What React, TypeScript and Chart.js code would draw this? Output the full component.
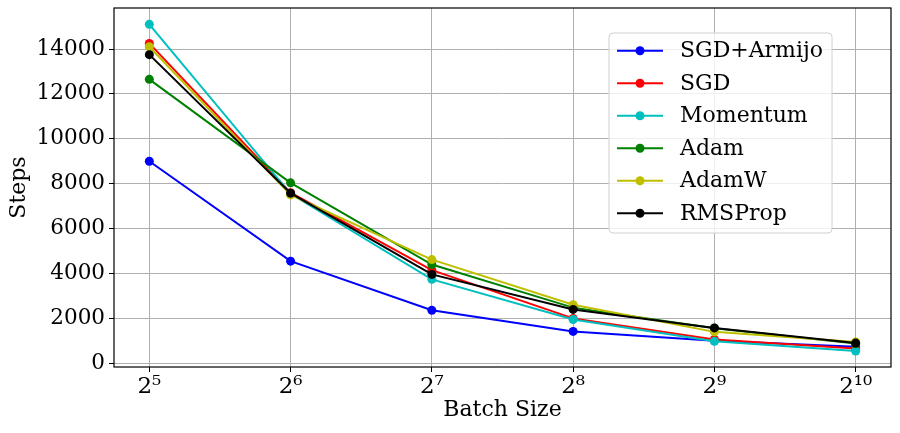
import { useEffect, useRef } from 'react';
import { Chart, registerables } from 'chart.js';

Chart.register(...registerables);

// log2 of batch size
const batchExps = [5, 6, 7, 8, 9, 10];
const supDigits: Record<string, string> = { '0': '⁰', '1': '¹', '2': '²', '3': '³', '4': '⁴', '5': '⁵', '6': '⁶', '7': '⁷', '8': '⁸', '9': '⁹' };

const sgdArmijo = [9000, 4550, 2360, 1420, 1000, 740];
const sgd = [14250, 7600, 4150, 2000, 1060, 660];
const momentum = [15100, 7550, 3740, 1950, 980, 550];
const adam = [12650, 8040, 4400, 2480, 1560, 880];
const adamW = [14100, 7500, 4620, 2610, 1400, 950];
const rmsProp = [13750, 7580, 3960, 2400, 1575, 900];

const seriesNames = ['SGD+Armijo', 'SGD', 'Momentum', 'Adam', 'AdamW', 'RMSProp'];
const seriesValues = [sgdArmijo, sgd, momentum, adam, adamW, rmsProp];
const seriesColors = ['#0000ff', '#ff0000', '#00bfbf', '#008000', '#bfbf00', '#000000'];

const yTicks = [0, 2000, 4000, 6000, 8000, 10000, 12000, 14000];

const FONT = "'DejaVu Serif', serif";

const framePlugin = {
  id: 'frame',
  afterDraw(chart: Chart) {
    const { ctx, chartArea } = chart;
    ctx.save();
    ctx.strokeStyle = '#000';
    ctx.lineWidth = 1.2;
    ctx.strokeRect(chartArea.left, chartArea.top, chartArea.right - chartArea.left, chartArea.bottom - chartArea.top);

    // legend box, top right
    const x = 609, y = 33, w = 223, h = 200;
    ctx.beginPath();
    ctx.roundRect(x, y, w, h, 4);
    ctx.fillStyle = 'rgba(255,255,255,0.8)';
    ctx.fill();
    ctx.strokeStyle = '#d0d0d0';
    ctx.lineWidth = 1;
    ctx.stroke();
    ctx.font = `22px ${FONT}`;
    ctx.textBaseline = 'middle';
    seriesNames.forEach((name, i) => {
      const cy = 50.7 + i * 32.5;
      ctx.strokeStyle = seriesColors[i];
      ctx.lineWidth = 2;
      ctx.beginPath();
      ctx.moveTo(617, cy);
      ctx.lineTo(663, cy);
      ctx.stroke();
      ctx.fillStyle = seriesColors[i];
      ctx.beginPath();
      ctx.arc(640, cy, 4.5, 0, Math.PI * 2);
      ctx.fill();
      ctx.fillStyle = '#000';
      ctx.fillText(name, 680, cy + 1);
    });
    ctx.restore();
  },
};

export default function App() {
  const canvasRef = useRef<HTMLCanvasElement>(null);
  const chartRef = useRef<Chart | null>(null);

  useEffect(() => {
    document.body.style.margin = '0';
    if (!canvasRef.current) return;
    if (chartRef.current) chartRef.current.destroy();
    const ctx = canvasRef.current.getContext('2d');
    if (!ctx) return;

    const datasets = seriesNames.map((name, i) => ({
      label: name,
      data: batchExps.map((e, j) => ({ x: e, y: seriesValues[i][j] })),
      borderColor: seriesColors[i],
      backgroundColor: seriesColors[i],
      borderWidth: 2,
      pointRadius: 4.5,
      pointBorderWidth: 0,
      pointHoverRadius: 4.5,
      tension: 0,
      fill: false,
      order: seriesNames.length - i,
    }));

    chartRef.current = new Chart(ctx, {
      type: 'line',
      data: { datasets },
      plugins: [framePlugin],
      options: {
        animation: false,
        responsive: false,
        layout: { padding: { top: 8, right: 9, left: 0, bottom: 0 } },
        plugins: {
          legend: { display: false },
          tooltip: { enabled: false },
        },
        scales: {
          x: {
            type: 'linear',
            min: 4.75,
            max: 10.25,
            afterBuildTicks: (axis: any) => {
              axis.ticks = batchExps.map((v) => ({ value: v }));
            },
            afterFit: (axis: any) => {
              axis.height = 66;
              axis.paddingLeft = 0;
              axis.paddingRight = 0;
            },
            grid: { color: '#b0b0b0', lineWidth: 1, tickLength: 5, tickColor: '#000' },
            border: { display: false },
            ticks: {
              color: '#000',
              font: { family: FONT, size: 23 },
              padding: 1,
              maxRotation: 0,
              callback: (v: any) => '2' + String(v).split('').map((d) => supDigits[d]).join(''),
            },
            title: {
              display: true,
              text: 'Batch Size',
              color: '#000',
              font: { family: FONT, size: 22 },
              padding: { top: 0, bottom: 10 },
            },
          },
          y: {
            type: 'linear',
            min: -165,
            max: 15827,
            afterBuildTicks: (axis: any) => {
              axis.ticks = yTicks.map((v) => ({ value: v }));
            },
            afterFit: (axis: any) => {
              axis.width = 114;
              axis.paddingTop = 0;
              axis.paddingBottom = 0;
            },
            grid: { color: '#b0b0b0', lineWidth: 1, tickLength: 5, tickColor: '#000' },
            border: { display: false },
            ticks: {
              color: '#000',
              font: { family: FONT, size: 21.5 },
              padding: 4,
              callback: (v: any) => String(v),
            },
            title: {
              display: true,
              text: 'Steps',
              color: '#000',
              font: { family: FONT, size: 22 },
              padding: { top: 6, bottom: 0 },
            },
          },
        },
      },
    });

    return () => {
      if (chartRef.current) {
        chartRef.current.destroy();
        chartRef.current = null;
      }
    };
  }, []);

  return (
    <div style={{ width: 900, height: 433 }}>
      <canvas ref={canvasRef} width={900} height={433} />
    </div>
  );
}
